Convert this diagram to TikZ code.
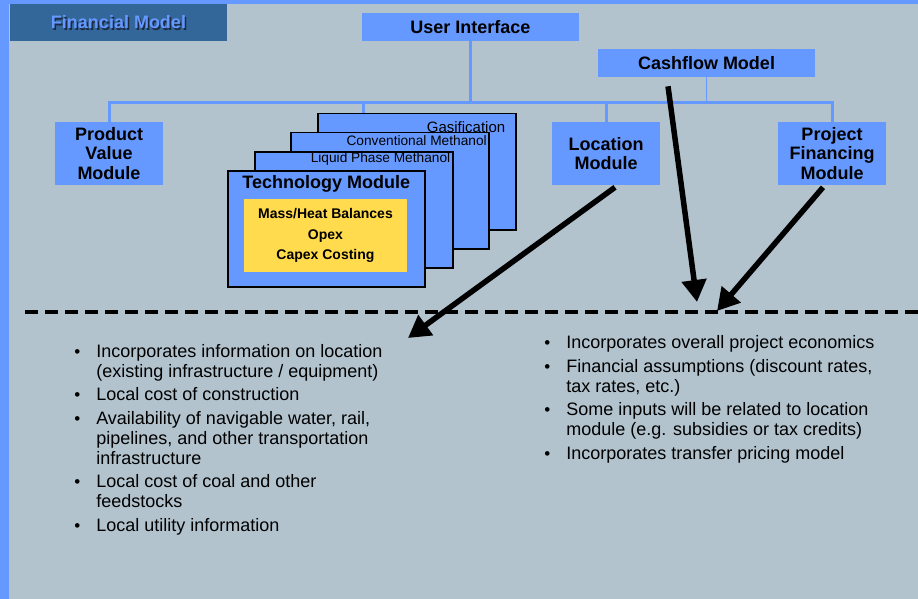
\documentclass[tikz,border=0pt]{standalone}
\usepackage{fontspec}
\setmainfont{Liberation Sans}
\usetikzlibrary{positioning,arrows.meta}
\definecolor {bgcol}{RGB}{178,195,206}
\definecolor {boxblue}{RGB}{102,153,255}
\definecolor {titleblue}{RGB}{51,102,153}
\definecolor {shadowcol}{RGB}{28,42,66}
\definecolor {coreyellow}{RGB}{255,219,77}
\newcommand{\bul}{{\fontsize{17}{17}\selectfont\textbullet}}

\begin{document}
\begin{tikzpicture}[x=1pt, y=-1pt, semithick,
            box/.style ={fill=boxblue, inner sep=0, align=center, font=\bfseries\fontsize{18}{19.5}\selectfont},
            card/.style ={draw=black, line width=1.5pt, fill=boxblue, inner sep=0, minimum width=198pt, minimum height=116pt, anchor=north west},
            cardlabel/.style ={inner sep=0, anchor=east, font=\fontsize{13.7}{15}\selectfont},
            tree/.style ={draw=boxblue, line width=3pt},
            flow/.style ={line width=5.5pt, -{Triangle[length=22pt,width=24pt]}},
            notes/.style ={inner sep=0, anchor=north west, font=\fontsize{18}{20}\selectfont}]

            \useasboundingbox (0,0) rectangle (918,599);
            \fill[bgcol] (0,0) rectangle (918,599);
            \fill[boxblue] (0,0) rectangle (918,4);
            \fill[boxblue] (0,0) rectangle (9,599);

            %titulo
            \node[fill=titleblue, minimum width=217pt, minimum height=37pt, inner sep=0] (fm) at (118.5, 22.5) {};
            \node[text=shadowcol, font=\bfseries\fontsize{18}{20}\selectfont] (fmShadow) at ([xshift=1.5pt, yshift=-1.5pt]fm.center) {Financial Model};
            \node[text=boxblue, font=\bfseries\fontsize{18}{20}\selectfont] (fmText) at (fm.center) {Financial Model};

            \node[box, minimum width=217pt, minimum height=28pt] (ui) at (470.5, 27) {User Interface};
            \node[box, minimum width=217pt, minimum height=28pt] (cash) at (706.5, 63) {Cashflow Model};
            \node[box, minimum width=108pt, minimum height=63pt] (prod) at (109, 153.5) {Product\\Value\\Module};
            \node[box, minimum width=108pt, minimum height=63pt] (loc) at (606, 153.5) {Location\\Module};
            \node[box, minimum width=108pt, minimum height=63pt] (fin) at (832, 153.5) {Project\\Financing\\Module};

            %tarjetas apiladas
            \node[card] (gas) at (317, 113) {};
            \node[cardlabel, font=\fontsize{15}{17}\selectfont] (gasT) at ([xshift=-11pt, yshift=-14pt]gas.north east) {Gasification};
            \node[card] (conv) at (290, 132) {};
            \node[cardlabel] (convT) at ([xshift=-2.5pt, yshift=-9pt]conv.north east) {Conventional Methanol};
            \node[card] (liq) at (254, 151) {};
            \node[cardlabel] (liqT) at ([xshift=-3pt, yshift=-8pt]liq.north east) {Liquid Phase Methanol};
            \node[card, minimum width=197pt] (tech) at (227, 170) {};
            \node[box, fill=none] (techT) at ([yshift=-14pt]tech.north) {Technology Module};
            \node[box, fill=coreyellow, minimum width=163pt, minimum height=73pt, font=\bfseries\fontsize{14}{20.5}\selectfont] (core) at (325.5, 235.5) {Mass/Heat Balances\\Opex\\Capex Costing};

            \coordinate (bus) at (0, 103);
            \coordinate (gasIn) at ([xshift=46pt]gas.north west);
            \draw[tree] (prod.north) -- (prod.north |- bus) -- (fin.north |- bus) -- (fin.north);
            \draw[tree] (ui.south) -- (ui.south |- bus);
            \draw[tree, line width=1.3pt] (cash.south) -- (cash.south |- bus);
            \draw[tree] (loc.north) -- (loc.north |- bus);
            \draw[tree] (gasIn) -- (gasIn |- bus);

            \draw[line width=3.5pt, dash pattern=on 12.5pt off 7.5pt] (25, 312) -- (918, 312);

            \coordinate (tipL) at (408, 338);
            \coordinate (tipC) at (697, 302);
            \coordinate (tipF) at (717, 311);
            \path ([xshift=9pt, yshift=-2pt]loc.south) edge[flow] (tipL);
            \path ([xshift=-38.5pt, yshift=-9pt]cash.south) edge[flow] (tipC);
            \path ([xshift=-9pt, yshift=-2pt]fin.south) edge[flow] (tipF);

            \node[notes] (locNotes) at (74, 343) {\begin{tabular}{@{}p{22pt}@{}l@{}}
                \bul & Incorporates information on location\\
                     & (existing infrastructure / equipment)\\[3.5pt]
                \bul & Local cost of construction\\[3.5pt]
                \bul & Availability of navigable water, rail,\\
                     & pipelines, and other transportation\\
                     & infrastructure\\[3.5pt]
                \bul & Local cost of coal and other\\
                     & feedstocks\\[3.5pt]
                \bul & Local utility information
            \end{tabular}};
            \node[notes] (finNotes) at (544, 334.5) {\begin{tabular}{@{}p{22pt}@{}l@{}}
                \bul & Incorporates overall project economics\\[3.5pt]
                \bul & Financial assumptions (discount rates,\\
                     & tax rates, etc.)\\[3.5pt]
                \bul & Some inputs will be related to location\\
                     & module (e.g. subsidies or tax credits)\\[3.5pt]
                \bul & Incorporates transfer pricing model
            \end{tabular}};
        \end{tikzpicture}
\end{document}
